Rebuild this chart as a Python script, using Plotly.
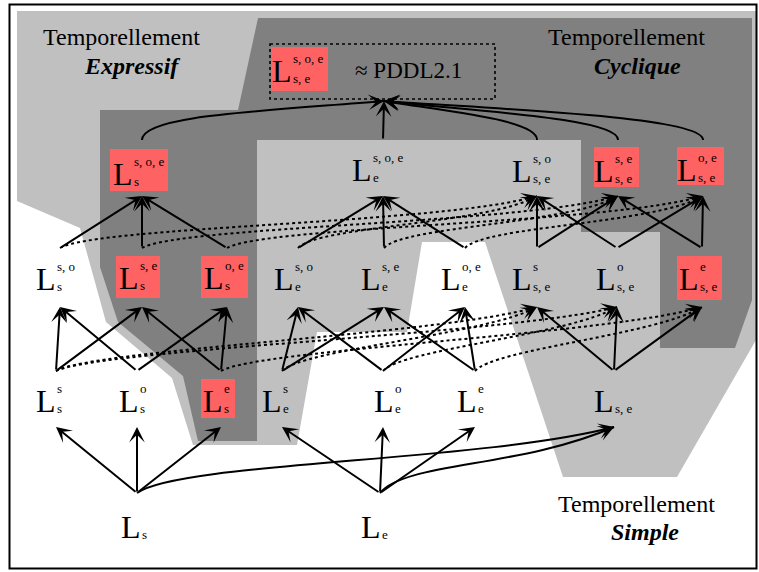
import math
import plotly.graph_objects as go

W, H = 759, 572

# ---------------- data ----------------
node_ids = ["Lsoe_se", "Lsoe_s", "Lsoe_e", "Lso_se", "Lse_se", "Loe_se",
            "Lso_s", "Lse_s", "Loe_s", "Lso_e", "Lse_e", "Loe_e", "Ls_se", "Lo_se", "Le_se",
            "Ls_s", "Lo_s", "Le_s", "Ls_e", "Lo_e", "Le_e", "L_se",
            "L_s", "L_e"]
node_sup = ["s, o, e", "s, o, e", "s, o, e", "s, o", "s, e", "o, e",
            "s, o", "s, e", "o, e", "s, o", "s, e", "o, e", "s", "o", "e",
            "s", "o", "e", "s", "o", "e", "",
            "", ""]
node_sub = ["s, e", "s", "e", "s, e", "s, e", "s, e",
            "s", "s", "s", "e", "e", "e", "s, e", "s, e", "s, e",
            "s", "s", "s", "e", "e", "e", "s, e",
            "s", "e"]
node_row = [0, 1, 1, 1, 1, 1,
            2, 2, 2, 2, 2, 2, 2, 2, 2,
            3, 3, 3, 3, 3, 3, 3,
            4, 4]
highlighted = ["Lsoe_se", "Lsoe_s", "Lse_se", "Loe_se", "Lse_s", "Loe_s", "Le_se", "Le_s"]

solid_edges = [
    ("Ls_s", "Lso_s"), ("Ls_s", "Lse_s"), ("Lo_s", "Lso_s"), ("Lo_s", "Loe_s"),
    ("Le_s", "Lse_s"), ("Le_s", "Loe_s"),
    ("Ls_e", "Lso_e"), ("Ls_e", "Lse_e"), ("Lo_e", "Lso_e"), ("Lo_e", "Loe_e"),
    ("Le_e", "Lse_e"), ("Le_e", "Loe_e"),
    ("L_se", "Ls_se"), ("L_se", "Lo_se"), ("L_se", "Le_se"),
    ("L_s", "Ls_s"), ("L_s", "Lo_s"), ("L_s", "Le_s"),
    ("L_e", "Ls_e"), ("L_e", "Lo_e"), ("L_e", "Le_e"),
    ("Lso_s", "Lsoe_s"), ("Lse_s", "Lsoe_s"), ("Loe_s", "Lsoe_s"),
    ("Lso_e", "Lsoe_e"), ("Lse_e", "Lsoe_e"), ("Loe_e", "Lsoe_e"),
    ("Ls_se", "Lso_se"), ("Ls_se", "Lse_se"), ("Lo_se", "Lso_se"), ("Lo_se", "Loe_se"),
    ("Le_se", "Lse_se"), ("Le_se", "Loe_se"),
    ("Lsoe_e", "PDDL"),
]
curved_edges = [("Lsoe_s", "PDDL"), ("Lso_se", "PDDL"), ("Lse_se", "PDDL"), ("Loe_se", "PDDL"),
                ("L_s", "L_se"), ("L_e", "L_se")]
dotted_edges = [
    ("Lso_s", "Lso_se"), ("Lse_s", "Lse_se"), ("Loe_s", "Loe_se"),
    ("Lso_e", "Lso_se"), ("Lse_e", "Lse_se"), ("Loe_e", "Loe_se"),
    ("Ls_s", "Ls_se"), ("Ls_s", "Lo_se"), ("Le_s", "Le_se"),
    ("Ls_e", "Ls_se"), ("Lo_e", "Lo_se"), ("Le_e", "Le_se"),
]
region_titles = ["Temporellement", "<b><i>Expressif</i></b>", "Temporellement", "<b><i>Cyclique</i></b>",
                 "Temporellement", "<b><i>Simple</i></b>"]
pddl_text = "≈ PDDL2.1"

# ---------------- layout geometry (pixel space) ----------------
# node: (L right edge x, L baseline y, port x)
node_pos = {
    "Lsoe_se": (293, 82, 383), "Lsoe_s": (134, 185, 142), "Lsoe_e": (373, 181, 383),
    "Lso_se": (533, 182, 537), "Lse_se": (615, 182, 618), "Loe_se": (698, 181, 703),
    "Lso_s": (57, 290, 60), "Lse_s": (140, 289, 142), "Loe_s": (225, 289, 227),
    "Lso_e": (295, 290, 298), "Lse_e": (382, 290, 384), "Loe_e": (462, 290, 465),
    "Ls_se": (533, 290, 537), "Lo_se": (617, 290, 617), "Le_se": (700, 290, 702),
    "Ls_s": (57, 412, 56), "Lo_s": (140, 412, 137), "Le_s": (224, 412, 221),
    "Ls_e": (283, 412, 282), "Lo_e": (395, 412, 383), "Le_e": (478, 412, 475),
    "L_se": (615, 412, 614),
    "L_s": (142, 538, 137), "L_e": (382, 538, 380),
}
row_head_y = {1: 196, 2: 307, 3: 427}
row_tail_y = {1: 140, 2: 248, 3: 371, 4: 493}
pddl_port = (384, 101)
red_boxes = {
    "Lsoe_se": (271, 47, 328, 91), "Lsoe_s": (110, 149, 168, 191),
    "Lse_se": (594, 147, 639, 187), "Loe_se": (677, 147, 724, 185),
    "Lse_s": (116, 256, 160, 298), "Loe_s": (201, 256, 248, 298),
    "Le_se": (677, 256, 722, 300), "Le_s": (201, 379, 235, 418),
}
curve_ctrl = {
    ("Lsoe_s", "PDDL"): ((142, 116), (250, 112)),
    ("Lso_se", "PDDL"): ((538, 120), (450, 112)),
    ("Lse_se", "PDDL"): ((619, 118), (470, 111)),
    ("Loe_se", "PDDL"): ((704, 116), (490, 109)),
    ("L_s", "L_se"): ((180, 462), (480, 462)),
    ("L_e", "L_se"): ((405, 462), (520, 468)),
}
light_poly = [(17, 11), (756, 11), (756, 340), (677, 477), (563, 477), (485, 242), (422, 242),
              (407, 332), (317, 332), (297, 445), (193, 445), (172, 378), (106, 322), (80, 228), (17, 201)]
dark_poly = [(258, 18), (752, 18), (752, 300), (735, 348), (660, 348), (660, 232), (581, 232),
             (581, 140), (257, 140), (257, 441), (198, 441), (183, 376), (118, 322), (100, 267),
             (100, 110), (238, 110)]
title_pos = [(121, 45), (132, 74), (626, 45), (637, 74), (636, 512), (645, 540)]
pddl_pos = (408, 78)
pddl_box = (270, 44, 495, 99)

LIGHT, DARK, RED = "#c0c0c0", "#808080", "#ff6262"
FONT = "Liberation Serif"
L_SIZE, S_SIZE, T_SIZE = 32, 13, 24
HEAD_SIZE = 1.3

idx = {n: i for i, n in enumerate(node_ids)}


def head_pt(n):
    if n == "PDDL":
        return pddl_port
    return (node_pos[n][2], row_head_y[node_row[idx[n]]])


def tail_pt(n):
    return (node_pos[n][2], row_tail_y[node_row[idx[n]]])


fig = go.Figure()
fig.add_trace(go.Scatter(x=[0, W], y=[0, H], mode="markers", marker=dict(opacity=0),
                         hoverinfo="skip", showlegend=False))

shapes = []
annots = []


def poly_path(pts):
    return "M " + " L ".join(f"{x},{y}" for x, y in pts) + " Z"


shapes.append(dict(type="path", path=poly_path(light_poly), fillcolor=LIGHT, line=dict(width=0),
                   xref="x", yref="y", layer="below"))
shapes.append(dict(type="path", path=poly_path(dark_poly), fillcolor=DARK, line=dict(width=0),
                   xref="x", yref="y", layer="below"))
for n in highlighted:
    x0, y0, x1, y1 = red_boxes[n]
    shapes.append(dict(type="rect", x0=x0, y0=y0, x1=x1, y1=y1, fillcolor=RED, line=dict(width=0),
                       xref="x", yref="y", layer="below"))
x0, y0, x1, y1 = pddl_box
shapes.append(dict(type="rect", x0=x0, y0=y0, x1=x1, y1=y1, fillcolor="rgba(0,0,0,0)",
                   line=dict(color="black", width=1.6, dash="dot"), xref="x", yref="y"))
shapes.append(dict(type="rect", x0=9.5, y0=4.5, x1=756.5, y1=568.5, fillcolor="rgba(0,0,0,0)",
                   line=dict(color="black", width=2), xref="x", yref="y"))


def head_annot(p2, p3, width=2):
    dx, dy = p3[0] - p2[0], p3[1] - p2[1]
    d = math.hypot(dx, dy) or 1
    annots.append(dict(x=p3[0], y=p3[1], ax=p3[0] - 12 * dx / d, ay=p3[1] - 12 * dy / d,
                       xref="x", yref="y", axref="x", ayref="y", text="", showarrow=True,
                       arrowhead=3, arrowsize=HEAD_SIZE, arrowwidth=width, arrowcolor="black",
                       standoff=0))


def bezier(p0, p1, p2, p3, dash=None, width=2):
    path = f"M {p0[0]},{p0[1]} C {p1[0]},{p1[1]} {p2[0]},{p2[1]} {p3[0]},{p3[1]}"
    ln = dict(color="black", width=width)
    if dash:
        ln["dash"] = dash
    shapes.append(dict(type="path", path=path, line=ln, xref="x", yref="y"))
    head_annot(p2, p3, 2)


for a, b in curved_edges:
    p0, p3 = tail_pt(a), head_pt(b)
    c1, c2 = curve_ctrl[(a, b)]
    bezier(p0, c1, c2, p3)

for a, b in dotted_edges:
    p0, p3 = tail_pt(a), head_pt(b)
    dxx = p3[0] - p0[0]
    c1 = (p0[0] + 0.08 * dxx, p0[1] - 22)
    c2 = (p3[0] - 0.2 * dxx, p3[1] + 28)
    bezier(p0, c1, c2, p3, dash="dot", width=2)

for a, b in solid_edges:
    t, h = tail_pt(a), head_pt(b)
    annots.append(dict(x=h[0], y=h[1], ax=t[0], ay=t[1], xref="x", yref="y", axref="x", ayref="y",
                       text="", showarrow=True, arrowhead=3, arrowsize=HEAD_SIZE, arrowwidth=2,
                       arrowcolor="black", standoff=0))

# node labels
for i, n in enumerate(node_ids):
    lx, ly, _ = node_pos[n]
    annots.append(dict(x=lx, y=ly - 0.34 * L_SIZE, text="L", showarrow=False, xanchor="right",
                       yanchor="middle", borderpad=0, xref="x", yref="y",
                       font=dict(family=FONT, size=L_SIZE, color="black")))
    if node_sup[i]:
        annots.append(dict(x=lx - 1, y=ly - 19 - 0.34 * S_SIZE, text=node_sup[i], showarrow=False,
                           xanchor="left", yanchor="middle", borderpad=0, xref="x", yref="y",
                           font=dict(family=FONT, size=S_SIZE, color="black")))
    if node_sub[i]:
        annots.append(dict(x=lx - 1, y=ly + 1 - 0.34 * S_SIZE, text=node_sub[i], showarrow=False,
                           xanchor="left", yanchor="middle", borderpad=0, xref="x", yref="y",
                           font=dict(family=FONT, size=S_SIZE, color="black")))

for txt, (tx, ty) in zip(region_titles, title_pos):
    annots.append(dict(x=tx, y=ty - 0.34 * T_SIZE, text=txt, showarrow=False, xanchor="center",
                       yanchor="middle", borderpad=0, xref="x", yref="y",
                       font=dict(family=FONT, size=T_SIZE, color="black")))
annots.append(dict(x=pddl_pos[0], y=pddl_pos[1] - 0.34 * 23, text=pddl_text, showarrow=False,
                   xanchor="center", yanchor="middle", borderpad=0, xref="x", yref="y",
                   font=dict(family=FONT, size=23, color="black")))

fig.update_layout(
    width=W, height=H, margin=dict(l=0, r=0, t=0, b=0),
    paper_bgcolor="white", plot_bgcolor="white",
    xaxis=dict(range=[0, W], visible=False, fixedrange=True),
    yaxis=dict(range=[H, 0], visible=False, fixedrange=True),
    shapes=shapes, annotations=annots, showlegend=False,
)
fig.write_html("out.html", config={"displayModeBar": False, "staticPlot": True},
               post_script="document.body.style.margin='0';document.body.style.overflow='hidden';")
